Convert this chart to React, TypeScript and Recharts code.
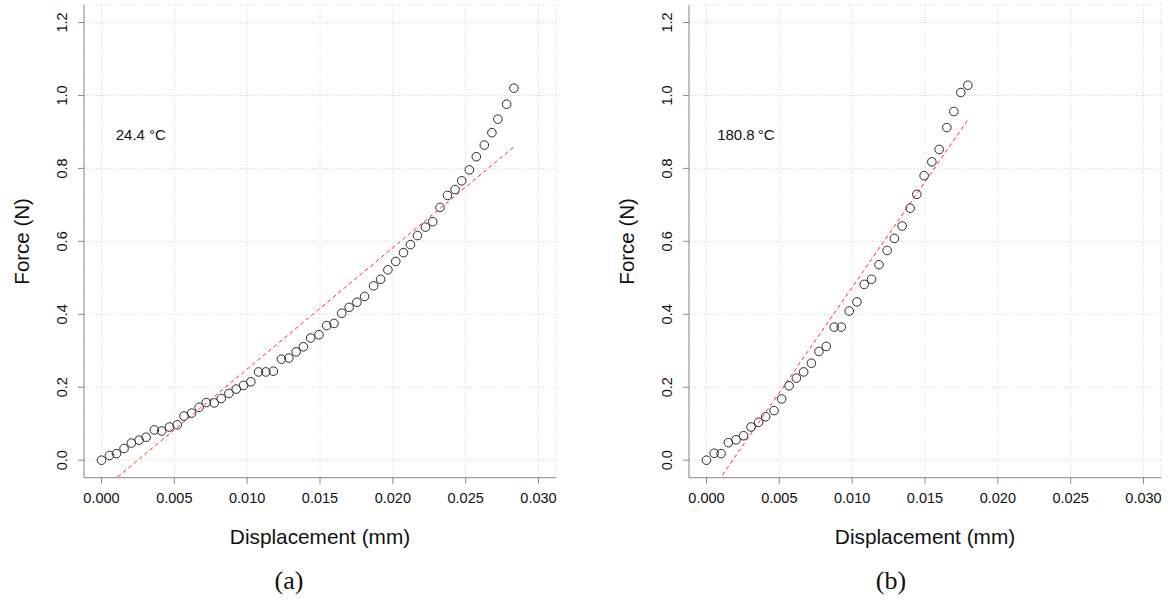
import React from 'react';
import {
  ScatterChart,
  Scatter,
  XAxis,
  YAxis,
  CartesianGrid,
  Label,
} from 'recharts';

// ---- tick labels ----
const xTicks = [0, 0.005, 0.01, 0.015, 0.02, 0.025, 0.03];
const yTicks = [0, 0.2, 0.4, 0.6, 0.8, 1.0, 1.2];
const xDomain: [number, number] = [-0.0012, 0.0312];
const yDomain: [number, number] = [-0.048, 1.248];

// ---- panel (a): 24.4 °C ----
const dispA = [
  0, 0.00055, 0.00103, 0.00155, 0.00205, 0.00258, 0.00306, 0.00363, 0.00413, 0.00466,
  0.0052, 0.00566, 0.00619, 0.0067, 0.00719, 0.00774, 0.00822, 0.00875, 0.00925, 0.00975,
  0.01025, 0.01078, 0.01128, 0.0118, 0.01235, 0.01286, 0.01336, 0.01386, 0.01436, 0.01493,
  0.01546, 0.01596, 0.01649, 0.017, 0.01753, 0.01806, 0.01868, 0.01916, 0.01966, 0.0202,
  0.02073, 0.02121, 0.02169, 0.02224, 0.02274, 0.02324, 0.02375, 0.02427, 0.02473, 0.02525,
  0.02573, 0.02628, 0.0268, 0.02721, 0.02781, 0.02831,
];
const forceA = [
  0, 0.013, 0.018, 0.032, 0.047, 0.055, 0.063, 0.083, 0.08, 0.091,
  0.097, 0.121, 0.129, 0.145, 0.158, 0.157, 0.169, 0.183, 0.195, 0.205,
  0.215, 0.242, 0.242, 0.244, 0.277, 0.28, 0.297, 0.311, 0.335, 0.344,
  0.369, 0.375, 0.403, 0.419, 0.433, 0.449, 0.478, 0.496, 0.522, 0.545,
  0.569, 0.591, 0.616, 0.639, 0.654, 0.693, 0.726, 0.742, 0.766, 0.796,
  0.832, 0.864, 0.898, 0.935, 0.976, 1.02,
];
const fitXA = [0, 0.02831];
const fitYA = [-0.083, 0.859];
const labelA = '24.4 °C';

// ---- panel (b): 180.8 °C ----
const dispB = [
  0, 0.00053, 0.001, 0.0015, 0.00203, 0.00254, 0.00306, 0.00358, 0.00406, 0.00464,
  0.00516, 0.00567, 0.00617, 0.00667, 0.0072, 0.00772, 0.00822, 0.00877, 0.00925, 0.0098,
  0.01033, 0.01083, 0.01133, 0.01184, 0.0124, 0.0129, 0.01343, 0.01398, 0.01444, 0.01494,
  0.01547, 0.01597, 0.0165, 0.01698, 0.01746, 0.01794,
];
const forceB = [
  0, 0.019, 0.018, 0.048, 0.056, 0.067, 0.091, 0.104, 0.119, 0.136,
  0.168, 0.204, 0.225, 0.242, 0.266, 0.298, 0.312, 0.365, 0.365, 0.409,
  0.434, 0.482, 0.496, 0.536, 0.575, 0.608, 0.642, 0.691, 0.729, 0.78,
  0.818, 0.852, 0.912, 0.956, 1.008, 1.028,
];
const fitXB = [0, 0.01794];
const fitYB = [-0.104, 0.933];
const labelB = '180.8\u2009°C';

const labelPos = { x: 0.0027, y: 0.894 };

const FONT = '"Liberation Sans", Arial, sans-serif';
const AXIS_COLOR = '#8a8a8a';

const zip = (xs: number[], ys: number[]) => xs.map((x, i) => ({ x, y: ys[i] }));

const RotTick = (props: any) => {
  const { x, y, payload } = props;
  return (
    <text
      x={x}
      y={y}
      transform={`rotate(-90 ${x} ${y})`}
      textAnchor="middle"
      fontSize={14.5}
      fontFamily={FONT}
      fill="#111"
    >
      {Number(payload.value).toFixed(1)}
    </text>
  );
};

const Circle = (p: any) => (
  <circle cx={p.cx} cy={p.cy} r={4.3} fill="none" stroke="#2a2a2a" strokeWidth={1} />
);

const Empty = () => <g />;

function Panel(props: {
  left: number;
  width: number;
  marginRight: number;
  xs: number[];
  ys: number[];
  fx: number[];
  fy: number[];
  label: string;
}) {
  const { left, width, marginRight, xs, ys, fx, fy, label } = props;
  const pts = zip(xs, ys);
  const fit = zip(fx, fy);
  const ann = [{ ...labelPos, label }];
  return (
    <div style={{ position: 'absolute', left, top: 0, width, height: 607 }}>
      <ScatterChart
        width={width}
        height={607}
        margin={{ top: 5, right: marginRight, left: 0, bottom: 59.3 }}
      >
        <CartesianGrid stroke="#d4d4d4" strokeDasharray="1 2" />
        <XAxis
          type="number"
          dataKey="x"
          domain={xDomain}
          ticks={xTicks}
          allowDataOverflow
          height={70}
          tickSize={6}
          tickMargin={9.3}
          tickFormatter={(v: number) => v.toFixed(3)}
          tick={{ fontSize: 14.5, fontFamily: FONT, fill: '#111' }}
          axisLine={{ stroke: AXIS_COLOR }}
          tickLine={{ stroke: AXIS_COLOR }}
        >
          <Label
            value="Displacement (mm)"
            position="insideBottom"
            offset={3.7}
            style={{ fontSize: 20.8, fontFamily: FONT, fill: '#111' }}
          />
        </XAxis>
        <YAxis
          type="number"
          dataKey="y"
          domain={yDomain}
          ticks={yTicks}
          allowDataOverflow
          width={84}
          tickSize={6}
          tickMargin={10.5}
          tick={<RotTick />}
          axisLine={{ stroke: AXIS_COLOR }}
          tickLine={{ stroke: AXIS_COLOR }}
        >
          <Label
            value="Force (N)"
            angle={-90}
            position="insideLeft"
            offset={22}
            style={{ fontSize: 20.5, fontFamily: FONT, fill: '#111', textAnchor: 'middle' }}
          />
        </YAxis>
        <XAxis
          xAxisId="top"
          orientation="top"
          type="number"
          dataKey="x"
          domain={xDomain}
          allowDataOverflow
          height={0}
          tick={false}
          tickLine={false}
          axisLine={{ stroke: AXIS_COLOR }}
        />
        <YAxis
          yAxisId="right"
          orientation="right"
          type="number"
          dataKey="y"
          domain={yDomain}
          allowDataOverflow
          width={0}
          tick={false}
          tickLine={false}
          axisLine={{ stroke: AXIS_COLOR }}
        />
        <Scatter
          data={fit}
          line={{ stroke: '#ff2a2a', strokeWidth: 1, strokeDasharray: '4 3' }}
          shape={<Empty />}
          isAnimationActive={false}
          legendType="none"
        />
        <Scatter data={pts} shape={<Circle />} isAnimationActive={false} />
        <Scatter
          data={ann}
          isAnimationActive={false}
          shape={(p: any) => (
            <text
              x={p.cx}
              y={p.cy}
              textAnchor="middle"
              dominantBaseline="central"
              fontSize={15}
              fontFamily={FONT}
              fill="#111"
            >
              {p.payload?.label ?? label}
            </text>
          )}
        />
      </ScatterChart>
    </div>
  );
}

const captionStyle: React.CSSProperties = {
  position: 'absolute',
  top: 563,
  width: 60,
  textAlign: 'center',
  fontFamily: '"Liberation Serif", "DejaVu Serif", serif',
  fontSize: 26,
  lineHeight: '36px',
  color: '#111',
};

export default function App() {
  return (
    <div
      style={{
        position: 'absolute',
        left: 0,
        top: 0,
        width: 1171,
        height: 607,
        background: '#fff',
        overflow: 'hidden',
      }}
    >
      <Panel left={0} width={585} marginRight={29} xs={dispA} ys={forceA} fx={fitXA} fy={fitYA} label={labelA} />
      <Panel left={605} width={566} marginRight={10} xs={dispB} ys={forceB} fx={fitXB} fy={fitYB} label={labelB} />
      <div style={{ ...captionStyle, left: 289 - 30 }}>(a)</div>
      <div style={{ ...captionStyle, left: 891 - 30 }}>(b)</div>
    </div>
  );
}
